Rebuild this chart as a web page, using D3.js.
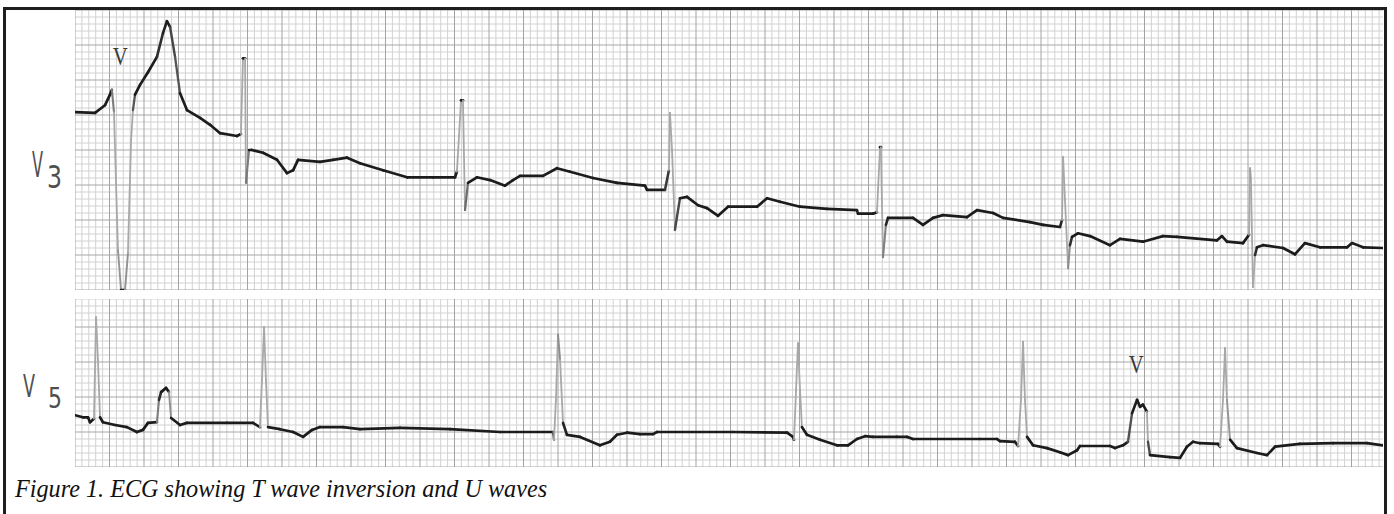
<!DOCTYPE html>
<html>
<head>
<meta charset="utf-8">
<script src="https://cdn.jsdelivr.net/npm/d3@7"></script>
<style>
  body { margin: 0; background: #fff; }
  svg { display: block; }
</style>
</head>
<body>
<div id="ecg"></div>
<script>
var v3Time = [0, 0.116, 0.174, 0.203, 0.214, 0.226, 0.249, 0.267, 0.290, 0.307,
  0.325, 0.336, 0.348, 0.377, 0.423, 0.475, 0.510, 0.533, 0.551, 0.580,
  0.609, 0.649, 0.725, 0.783, 0.841, 0.939, 0.962, 0.974, 0.986, 0.991,
  1.009, 1.026, 1.090, 1.171, 1.229, 1.264, 1.293, 1.420, 1.496, 1.577,
  1.652, 1.786, 1.925, 2.075, 2.203, 2.214, 2.238, 2.249, 2.261, 2.278,
  2.330, 2.406, 2.493, 2.539, 2.580, 2.713, 2.794, 2.870, 3.003, 3.142,
  3.304, 3.316, 3.420, 3.443, 3.449, 3.461, 3.478, 3.507, 3.548, 3.612,
  3.664, 3.728, 3.786, 3.954, 4.012, 4.087, 4.203, 4.359, 4.533, 4.539,
  4.626, 4.649, 4.667, 4.672, 4.684, 4.701, 4.713, 4.858, 4.916, 4.974,
  5.032, 5.171, 5.229, 5.322, 5.380, 5.536, 5.612, 5.710, 5.722, 5.728,
  5.739, 5.757, 5.768, 5.780, 5.814, 5.884, 6.000, 6.058, 6.191, 6.307,
  6.388, 6.620, 6.649, 6.678, 6.771, 6.806, 6.812, 6.817, 6.829, 6.841,
  6.852, 6.887, 7.003, 7.072, 7.130, 7.217, 7.374, 7.403, 7.467, 7.583];
var v3Volt = [1.04, 1.03, 1.14, 1.29, 1.36, 1.04, -0.93, -1.50, -1.50, -0.97,
  0.64, 1.07, 1.29, 1.43, 1.61, 1.83, 2.17, 2.34, 2.26, 1.83,
  1.31, 1.07, 0.96, 0.86, 0.74, 0.70, 0.73, 1.81, 1.81, 0.03,
  0.50, 0.50, 0.46, 0.36, 0.17, 0.21, 0.36, 0.33, 0.36, 0.39,
  0.31, 0.21, 0.11, 0.11, 0.11, 0.19, 1.21, 1.21, -0.36, 0.03,
  0.11, 0.07, -0.01, 0.07, 0.13, 0.13, 0.24, 0.19, 0.10, 0.03,
  -0.01, -0.07, -0.07, 0.21, 1.03, 0.50, -0.64, -0.19, -0.17, -0.29,
  -0.33, -0.44, -0.31, -0.31, -0.19, -0.24, -0.31, -0.34, -0.36, -0.41,
  -0.41, -0.39, 0.54, 0.54, -1.03, -0.57, -0.47, -0.47, -0.57, -0.47,
  -0.43, -0.46, -0.36, -0.40, -0.47, -0.53, -0.57, -0.60, -0.50, 0.40,
  -0.21, -1.19, -0.86, -0.74, -0.69, -0.73, -0.86, -0.77, -0.81, -0.73,
  -0.74, -0.79, -0.73, -0.81, -0.83, -0.71, 0.24, 0.07, -1.46, -1.00,
  -0.89, -0.86, -0.90, -0.99, -0.83, -0.89, -0.89, -0.83, -0.89, -0.90];

// V5 lead
var v5Time = [0, 0.046, 0.075, 0.087, 0.110, 0.122, 0.133, 0.145, 0.162, 0.232,
  0.301, 0.359, 0.394, 0.423, 0.475, 0.487, 0.499, 0.528, 0.545, 0.557,
  0.609, 0.649, 0.881, 1.032, 1.072, 1.084, 1.096, 1.107, 1.119, 1.188,
  1.264, 1.322, 1.374, 1.420, 1.554, 1.652, 1.884, 2.174, 2.464, 2.771,
  2.777, 2.788, 2.800, 2.812, 2.829, 2.852, 2.928, 3.043, 3.101, 3.142,
  3.200, 3.275, 3.351, 3.374, 3.814, 4.128, 4.162, 4.168, 4.180, 4.191,
  4.203, 4.214, 4.243, 4.319, 4.417, 4.481, 4.533, 4.580, 4.626, 4.765,
  4.823, 4.858, 5.246, 5.345, 5.362, 5.449, 5.467, 5.484, 5.496, 5.507,
  5.519, 5.554, 5.635, 5.710, 5.757, 5.809, 5.826, 6.000, 6.029, 6.075,
  6.104, 6.128, 6.157, 6.174, 6.191, 6.214, 6.220, 6.232, 6.348, 6.406,
  6.446, 6.481, 6.522, 6.626, 6.638, 6.655, 6.667, 6.678, 6.696, 6.736,
  6.852, 6.910, 6.957, 7.101, 7.293, 7.490, 7.583];
var v5Volt = [0.24, 0.21, 0.21, 0.14, 0.19, 1.64, 1.03, 0.21, 0.14, 0.10,
  0.07, 0.00, 0.03, 0.13, 0.14, 0.46, 0.57, 0.63, 0.57, 0.20,
  0.10, 0.13, 0.13, 0.13, 0.07, 0.74, 1.50, 0.74, 0.07, 0.04,
  0.00, -0.07, 0.03, 0.07, 0.07, 0.04, 0.06, 0.04, 0.00, 0.00,
  -0.11, 0.46, 1.39, 1.03, 0.13, -0.04, -0.07, -0.19, -0.14, -0.04,
  -0.01, -0.03, -0.03, 0.00, 0.00, -0.01, -0.07, -0.11, 0.60, 1.27,
  0.60, 0.07, -0.04, -0.11, -0.19, -0.19, -0.10, -0.06, -0.07, -0.07,
  -0.07, -0.10, -0.10, -0.10, -0.13, -0.14, -0.20, 0.46, 1.29, 0.46,
  -0.07, -0.19, -0.23, -0.29, -0.33, -0.26, -0.20, -0.20, -0.23, -0.19,
  -0.14, 0.27, 0.46, 0.36, 0.39, 0.29, -0.14, -0.33, -0.36, -0.37,
  -0.21, -0.14, -0.16, -0.17, -0.21, 0.46, 1.20, 0.46, -0.11, -0.23,
  -0.30, -0.33, -0.21, -0.17, -0.16, -0.16, -0.19];

var leadNames = ["V3", "V5"];
var beatMarks = [0.262, 6.152];   // "V" marks over the ectopic beats
var caption = "Figure 1. ECG showing T wave inversion and U waves";

var width = 1394, height = 514;
var gridLeft = 75, gridRight = 1383;

var svg = d3.select("#ecg").append("svg")
  .attr("width", width)
  .attr("height", height);

var x = d3.scaleLinear().domain([0, 7.6]).range([gridLeft, gridLeft + 7.6 * 172.5]);

// each strip: 1 mV = 70px (two big squares)
var strips = [
  { name: "v3", y: d3.scaleLinear().domain([-1.5, 2.5]).range([290, 10]), t: v3Time, v: v3Volt },
  { name: "v5", y: d3.scaleLinear().domain([-0.5, 1.9]).range([467, 299]), t: v5Time, v: v5Volt }
];

svg.append("defs").selectAll("clipPath")
  .data(strips)
  .enter().append("clipPath")
  .attr("id", function (d) { return "clip-" + d.name; })
  .append("rect")
  .attr("x", gridLeft)
  .attr("width", gridRight - gridLeft)
  .attr("y", function (d) { return d.y.range()[1]; })
  .attr("height", function (d) { return d.y.range()[0] - d.y.range()[1]; });

strips.forEach(function (s) {
  var g = svg.append("g").attr("clip-path", "url(#clip-" + s.name + ")");
  var y0 = s.y.range()[1], y1 = s.y.range()[0];
  var dom = s.y.domain();

  // vertical grid: 0.04 s small, 0.2 s big
  var ticksX = d3.range(0, 7.6, 0.04);
  g.append("g").selectAll("line")
    .data(ticksX.filter(function (t, i) { return i % 5 != 0; }))
    .enter().append("line")
    .attr("x1", function (t) { return x(t); })
    .attr("x2", function (t) { return x(t); })
    .attr("y1", y0).attr("y2", y1)
    .attr("stroke", "#d2d2d2").attr("stroke-width", 1);

  // horizontal grid: 0.1 mV small, 0.5 mV big
  var ticksY = d3.range(0, Math.round((dom[1] - dom[0]) / 0.1) + 1).map(function (i) { return dom[0] + i * 0.1; });
  g.append("g").selectAll("line")
    .data(ticksY)
    .enter().append("line")
    .attr("x1", gridLeft).attr("x2", gridRight)
    .attr("y1", function (v) { return s.y(v); })
    .attr("y2", function (v) { return s.y(v); })
    .attr("stroke", function (v) { return Math.abs(Math.round(v * 10)) % 5 == 0 ? "#a6a6a6" : "#d2d2d2"; })
    .attr("stroke-width", 1);

  g.append("g").selectAll("line")
    .data(ticksX.filter(function (t, i) { return i % 5 == 0; }))
    .enter().append("line")
    .attr("x1", function (t) { return x(t); })
    .attr("x2", function (t) { return x(t); })
    .attr("y1", y0).attr("y2", y1)
    .attr("stroke", "#a3a3a3").attr("stroke-width", 1);

  // trace, one segment at a time: fast strokes print faint
  var pts = d3.zip(s.t, s.v);
  var segs = d3.pairs(pts);
  var fade = d3.interpolateRgb("#1c1c1c", "#a8a8a8");
  g.append("g").selectAll("line")
    .data(segs)
    .enter().append("line")
    .attr("x1", function (d) { return x(d[0][0]); })
    .attr("y1", function (d) { return s.y(d[0][1]); })
    .attr("x2", function (d) { return x(d[1][0]); })
    .attr("y2", function (d) { return s.y(d[1][1]); })
    .attr("stroke-linecap", "round")
    .each(function (d) {
      var dx = Math.abs(x(d[1][0]) - x(d[0][0]));
      var dy = Math.abs(s.y(d[1][1]) - s.y(d[0][1]));
      var k = Math.max(0, Math.min(1, (dy / Math.max(dx, 0.5) - 2.5) / 12));
      d3.select(this)
        .attr("stroke", fade(k))
        .attr("stroke-width", 2.7 - k * 0.9);
    });
});

// lead labels, hand lettered: one text each, the number drops a little
var labPos = [[32, 177, 36, 11, 4, 11, 32, 15], [23, 397, 32, 12, 13, 11, 28, 14]];
svg.append("g")
  .style("font-family", "'DejaVu Sans', sans-serif")
  .attr("fill", "#505050")
  .selectAll("text")
  .data(leadNames)
  .enter().append("text")
  .attr("x", function (d, i) { return labPos[i][0]; })
  .attr("y", function (d, i) { return labPos[i][1]; })
  .each(function (d, i) {
    var p = labPos[i];
    var t = d3.select(this);
    t.append("tspan")
      .attr("font-size", p[2])
      .attr("textLength", p[3])
      .attr("lengthAdjust", "spacingAndGlyphs")
      .text(d.charAt(0));
    t.append("tspan")
      .attr("dx", p[4])
      .attr("dy", p[5])
      .attr("font-size", p[6])
      .attr("textLength", p[7])
      .attr("lengthAdjust", "spacingAndGlyphs")
      .text(d.charAt(1));
  });

// small V marks over the premature beats
svg.append("g").selectAll("text")
  .data(beatMarks)
  .enter().append("text")
  .attr("x", function (t) { return x(t); })
  .attr("y", function (t, i) { return i == 0 ? strips[0].y(2.5) + 55 : strips[1].y(0.85); })
  .attr("text-anchor", "middle")
  .attr("font-size", 25)
  .attr("textLength", 15)
  .attr("lengthAdjust", "spacingAndGlyphs")
  .style("font-family", "'Liberation Serif', serif")
  .attr("fill", "#3a3a3a")
  .text("V");

// frame
svg.append("path")
  .attr("d", "M4.5," + height + "V8.5H1385.5V" + height)
  .attr("fill", "none")
  .attr("stroke", "#1e1e1e")
  .attr("stroke-width", 3);

svg.append("text")
  .attr("x", 15)
  .attr("y", 497)
  .style("font-family", "'Liberation Serif', 'Times New Roman', serif")
  .style("font-style", "italic")
  .attr("font-size", 24.2)
  .attr("fill", "#111")
  .text(caption);
</script>
</body>
</html>
